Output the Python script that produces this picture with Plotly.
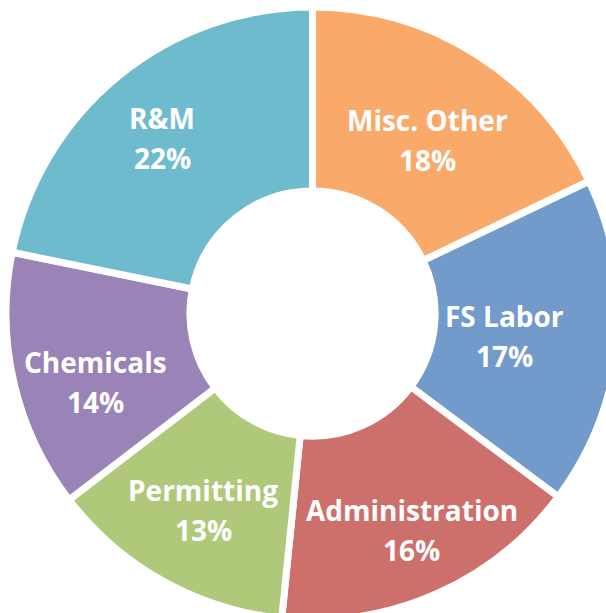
import math
import plotly.graph_objects as go

labels = ["Misc. Other", "FS Labor", "Administration", "Permitting", "Chemicals", "R&M"]
values = [17.9, 17.3, 16.4, 13.0, 13.6, 21.8]
colors = ["#F9AA6B", "#729ACB", "#CD706B", "#AFC87A", "#9A83B6", "#6FBBCE"]

# label placement: radial distance (px) and angular nudge (deg) from slice mid-angle
label_radius_px = [208, 193, 238, 225, 228, 231]
label_angle_shift = [1.4, 1.1, -0.9, -0.1, -4.5, -1.4]

W, H = 624, 626
ML, MR, MT, MB = 6, 5, 7, 6
side = min(W - ML - MR, H - MT - MB)

fig = go.Figure(go.Pie(
    labels=labels,
    values=values,
    sort=False,
    direction="clockwise",
    rotation=0,
    hole=0.40,
    marker=dict(colors=colors, line=dict(color="white", width=7)),
    textinfo="none",
    hoverinfo="label+percent",
    showlegend=False,
))

total = sum(values)
cum = 0
annotations = []
font = dict(family="Open Sans", size=28, color="white", weight="bold")
for lab, v, rpx, da in zip(labels, values, label_radius_px, label_angle_shift):
    mid = (cum + v / 2) / total * 2 * math.pi + math.radians(da)
    cum += v
    x = 0.5 + rpx * math.sin(mid) / side
    y = 0.5 + rpx * math.cos(mid) / side
    pct = f"{v / total * 100:.0f}%"
    annotations.append(dict(x=x, y=y, xref="paper", yref="paper", text=lab,
                            showarrow=False, font=font, yshift=20,
                            xanchor="center", yanchor="middle"))
    annotations.append(dict(x=x, y=y, xref="paper", yref="paper", text=pct,
                            showarrow=False, font=font, yshift=-20,
                            xanchor="center", yanchor="middle"))

fig.update_layout(
    width=W, height=H,
    margin=dict(l=ML, r=MR, t=MT, b=MB),
    paper_bgcolor="white",
    plot_bgcolor="white",
    annotations=annotations,
)

fig.write_html("out.html", config={"displayModeBar": False},
               post_script="document.body.style.margin='0';document.body.style.overflow='hidden';")
